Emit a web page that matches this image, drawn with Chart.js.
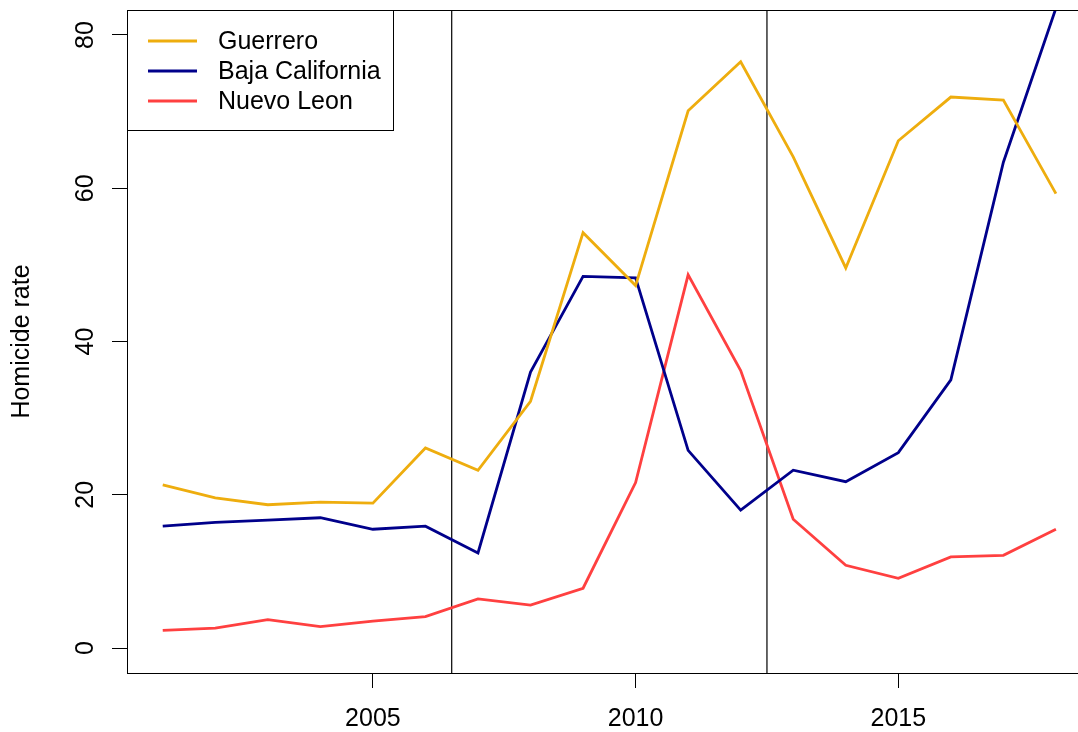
<!DOCTYPE html>
<html>
<head>
<meta charset="utf-8">
<script src="https://cdn.jsdelivr.net/npm/chart.js@4.4.1/dist/chart.umd.min.js"></script>
<style>
  html, body { margin: 0; padding: 0; background: #ffffff; }
  #wrap { width: 1078px; height: 732px; }
</style>
</head>
<body>
<div id="wrap"><canvas id="c" width="1078" height="732"></canvas></div>
<script>
// Homicide rate per state, 2001-2018
const years = [2001, 2002, 2003, 2004, 2005, 2006, 2007, 2008, 2009, 2010, 2011, 2012, 2013, 2014, 2015, 2016, 2017, 2018];
const guerrero = [21.3, 19.6, 18.7, 19.05, 18.9, 26.1, 23.2, 32.2, 54.2, 47.3, 70.1, 76.5, 64.1, 49.6, 66.2, 71.9, 71.5, 59.3];
const bajaCalifornia = [15.9, 16.4, 16.7, 17.0, 15.5, 15.9, 12.4, 36.0, 48.5, 48.3, 25.8, 18.0, 23.2, 21.7, 25.5, 35.0, 63.4, 83.5];
const nuevoLeon = [2.3, 2.6, 3.7, 2.8, 3.5, 4.1, 6.4, 5.6, 7.8, 21.6, 48.7, 36.2, 16.8, 10.8, 9.1, 11.9, 12.1, 15.5];
const seriesNames = ['Guerrero', 'Baja California', 'Nuevo Leon'];
const seriesColors = ['#EEAD0E', '#00008B', '#FF4040'];
const xTicks = [2005, 2010, 2015];
const yTicks = [0, 20, 40, 60, 80];
const breakYears = [2006.5, 2012.5];

const FONT = 'Liberation Sans, Arial, Helvetica, sans-serif';
const FONT_SIZE = 25;

const toPoints = vals => vals.map((v, i) => ({ x: years[i], y: v }));
const seriesData = [guerrero, bajaCalifornia, nuevoLeon];

const datasets = seriesData.map((vals, i) => ({
  label: seriesNames[i],
  data: toPoints(vals),
  borderColor: seriesColors[i],
  backgroundColor: seriesColors[i],
  borderWidth: 2.8,
  pointRadius: 0,
  tension: 0,
  fill: false
}));

// vertical reference lines at the period breaks
breakYears.forEach(b => {
  datasets.push({
    label: '',
    data: [{ x: b, y: -100 }, { x: b, y: 200 }],
    borderColor: '#000000',
    borderWidth: 1.2,
    pointRadius: 0,
    fill: false
  });
});

// frame around the plotting region
const framePlugin = {
  id: 'frame',
  afterDatasetsDraw(chart) {
    const a = chart.chartArea;
    const ctx = chart.ctx;
    ctx.save();
    ctx.strokeStyle = '#000000';
    ctx.lineWidth = 1;
    ctx.strokeRect(a.left + 0.5, a.top + 0.5, a.right - a.left, a.bottom - a.top);
    ctx.restore();
  }
};

// boxed legend in the top-left corner of the plot
const boxLegend = {
  id: 'boxLegend',
  afterDraw(chart) {
    const a = chart.chartArea;
    const ctx = chart.ctx;
    const x0 = a.left, y0 = a.top;
    const w = 266, h = 120;
    ctx.save();
    ctx.fillStyle = '#ffffff';
    ctx.fillRect(x0, y0, w, h);
    ctx.strokeStyle = '#000000';
    ctx.lineWidth = 1;
    ctx.strokeRect(x0 + 0.5, y0 + 0.5, w, h);
    ctx.font = FONT_SIZE + 'px ' + FONT;
    ctx.textBaseline = 'middle';
    ctx.textAlign = 'left';
    seriesNames.forEach((name, i) => {
      const y = y0 + 31 + i * 30;
      ctx.strokeStyle = seriesColors[i];
      ctx.lineWidth = 2.8;
      ctx.beginPath();
      ctx.moveTo(x0 + 21, y);
      ctx.lineTo(x0 + 70, y);
      ctx.stroke();
      ctx.fillStyle = '#000000';
      ctx.fillText(name, x0 + 91, y + 1);
    });
    ctx.restore();
  }
};

new Chart(document.getElementById('c'), {
  type: 'line',
  data: { datasets },
  options: {
    responsive: false,
    animation: false,
    layout: { padding: { top: 10, right: 0, bottom: 0, left: 0 } },
    plugins: {
      legend: { display: false },
      tooltip: { enabled: false }
    },
    scales: {
      x: {
        type: 'linear',
        min: 2000.32,
        max: 2018.42,
        afterBuildTicks: s => { s.ticks = xTicks.map(v => ({ value: v })); },
        afterFit: s => { s.height = 59; s.paddingLeft = 0; s.paddingRight = 0; },
        grid: { drawOnChartArea: false, drawTicks: true, tickLength: 15, color: '#000000', lineWidth: 1 },
        border: { display: true, color: '#000000', width: 1 },
        ticks: {
          color: '#000000',
          font: { family: FONT, size: FONT_SIZE },
          padding: 16,
          maxRotation: 0,
          minRotation: 0,
          callback: v => String(v)
        }
      },
      y: {
        type: 'linear',
        min: -3.26,
        max: 83.26,
        afterBuildTicks: s => { s.ticks = yTicks.map(v => ({ value: v })); },
        afterFit: s => { s.width = 127; s.paddingTop = 0; s.paddingBottom = 0; },
        grid: { drawOnChartArea: false, drawTicks: true, tickLength: 15, color: '#000000', lineWidth: 1 },
        border: { display: true, color: '#000000', width: 1 },
        ticks: {
          color: '#000000',
          font: { family: FONT, size: FONT_SIZE },
          padding: 12,
          minRotation: 90,
          maxRotation: 90,
          crossAlign: 'center',
          callback: v => String(v)
        },
        title: {
          display: true,
          text: 'Homicide rate',
          color: '#000000',
          font: { family: FONT, size: FONT_SIZE },
          padding: { top: 7, bottom: 0 }
        }
      }
    }
  },
  plugins: [framePlugin, boxLegend]
});
</script>
</body>
</html>
